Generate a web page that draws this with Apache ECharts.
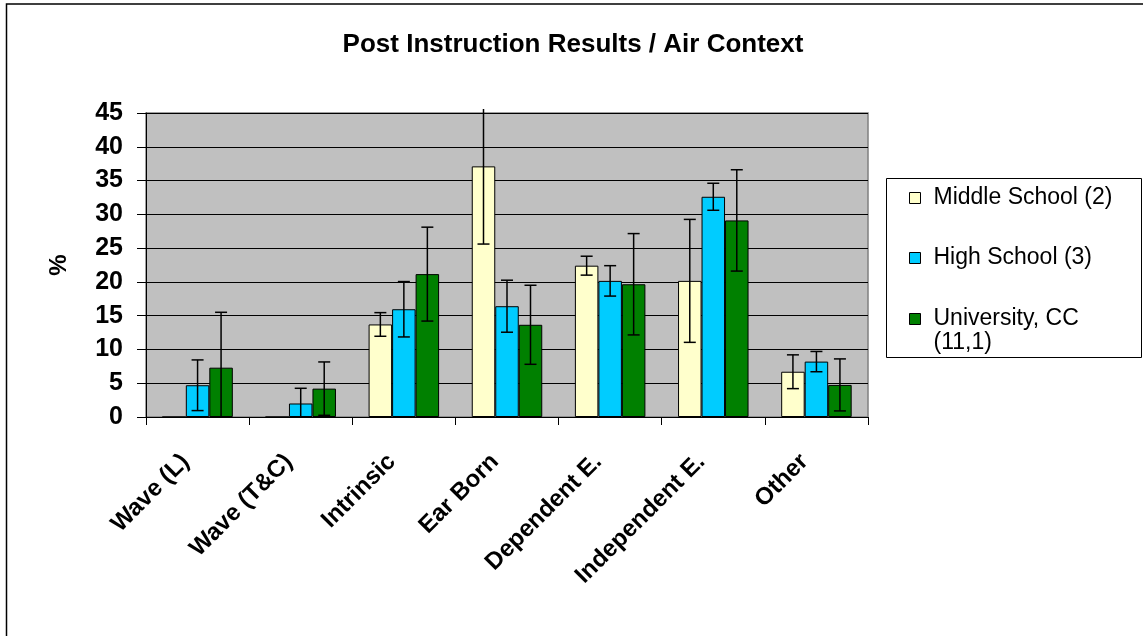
<!DOCTYPE html>
<html>
<head>
<meta charset="utf-8">
<script src="https://cdn.jsdelivr.net/npm/echarts@6/dist/echarts.min.js"></script>
<style>
html,body{margin:0;padding:0;background:#fff;}
#chart{width:1143px;height:636px;}
</style>
</head>
<body>
<div id="chart"></div>
<script>
const categories = ['Wave (L)', 'Wave (T&C)', 'Intrinsic', 'Ear Born', 'Dependent E.', 'Independent E.', 'Other'];
const seriesNames = ['Middle School (2)', 'High School (3)', 'University, CC\n(11,1)'];
const middleSchool = [0, 0, 13.7, 37.1, 22.4, 20.15, 6.7];
const middleSchoolErr = [0, 0, 1.75, 11.5, 1.4, 9.1, 2.5];
const highSchool = [4.7, 2.0, 15.95, 16.4, 20.15, 32.6, 8.2];
const highSchoolErr = [3.75, 2.25, 4.1, 3.85, 2.25, 2.0, 1.5];
const university = [7.3, 4.2, 21.15, 13.65, 19.65, 29.1, 4.75];
const universityErr = [8.2, 3.95, 6.95, 5.85, 7.5, 7.5, 3.85];
const yTicks = [0, 5, 10, 15, 20, 25, 30, 35, 40, 45];

const colors = ['#FFFFCC', '#00CCFF', '#008000'];
const BAR_W = 23.5;
const FONT = 'Liberation Sans, Arial, sans-serif';

const values = [middleSchool, highSchool, university];
const errs = [middleSchoolErr, highSchoolErr, universityErr];

const chart = echarts.init(document.getElementById('chart'), null, {renderer: 'canvas'});

function errSeries(k) {
  const data = categories.map((c, i) => [i, values[k][i], errs[k][i]]);
  return {
    type: 'custom',
    name: 'err' + k,
    z: 10,
    silent: true,
    data: data,
    encode: {x: 0, y: 1},
    renderItem: function (params, api) {
      const idx = api.value(0);
      const v = api.value(1);
      const e = api.value(2);
      if (!e) return null;
      const cs = params.coordSys;
      const center = api.coord([idx, v]);
      const x = center[0] + (k - 1) * BAR_W;
      let yTop = api.coord([idx, v + e])[1];
      let yBot = api.coord([idx, v - e])[1];
      const y0 = api.coord([idx, 0])[1];
      const children = [];
      let topCap = true, botCap = true;
      if (yTop < cs.y - 4) { yTop = cs.y - 4; topCap = false; }
      if (yBot > y0) { yBot = y0; botCap = false; }
      const st = {stroke: '#000', lineWidth: 1.5};
      children.push({type: 'line', shape: {x1: x, y1: yTop, x2: x, y2: yBot}, style: st});
      if (topCap) children.push({type: 'line', shape: {x1: x - 6, y1: yTop, x2: x + 6, y2: yTop}, style: st});
      if (botCap) children.push({type: 'line', shape: {x1: x - 6, y1: yBot, x2: x + 6, y2: yBot}, style: st});
      return {type: 'group', children: children};
    }
  };
}

const barSeries = values.map((vals, k) => ({
  type: 'bar',
  name: seriesNames[k],
  data: vals,
  barWidth: BAR_W,
  barGap: '0%',
  itemStyle: {color: colors[k], borderColor: '#000', borderWidth: 1},
  z: 5
}));

const legendPads = [[23, 0, 23, 8], [23, 0, 23, 8], [0, 0, 0, 8]];

const option = {
  animation: false,
  backgroundColor: '#fff',
  title: {
    text: 'Post Instruction Results / Air Context',
    left: 568,
    textAlign: 'center',
    top: 27,
    textStyle: {fontFamily: FONT, fontSize: 26, fontWeight: 'bold', color: '#000'}
  },
  legend: {
    orient: 'vertical',
    left: 909,
    top: 163,
    itemWidth: 11,
    itemHeight: 11,
    itemGap: -10,
    padding: 0,
    data: seriesNames.map((n, k) => ({
      name: n, icon: 'rect',
      textStyle: {padding: legendPads[k]}
    })),
    formatter: function (name) {
      return name.indexOf('\n') >= 0 ? ' \n' + name : name;
    },
    itemStyle: {borderColor: '#000', borderWidth: 1},
    textStyle: {fontFamily: FONT, fontSize: 23, color: '#000', lineHeight: 24}
  },
  grid: {
    left: 146, top: 113, right: 275, bottom: 219,
    show: true, backgroundColor: '#C0C0C0', borderColor: '#808080', borderWidth: 1.5
  },
  xAxis: {
    type: 'category',
    data: categories,
    axisLine: {lineStyle: {color: '#000', width: 1}},
    axisTick: {show: true, length: 8, alignWithLabel: false, lineStyle: {color: '#000'}},
    axisLabel: {
      rotate: 45, interval: 0, margin: 46,
      verticalAlign: 'bottom',
      padding: [0, 5, 0, 0],
      fontFamily: FONT, fontSize: 24, fontWeight: 'bold', color: '#000'
    },
    z: 20
  },
  yAxis: {
    type: 'value',
    min: 0, max: 45, interval: 5,
    name: '%',
    nameLocation: 'middle',
    nameGap: 75,
    nameRotate: 90,
    nameTextStyle: {fontFamily: FONT, fontSize: 24, fontWeight: 'bold', color: '#000'},
    axisLine: {show: true, lineStyle: {color: '#000', width: 1}},
    axisTick: {show: true, length: 9, inside: false, lineStyle: {color: '#000'}},
    axisLabel: {
      margin: 23, fontFamily: FONT, fontSize: 25, fontWeight: 'bold', color: '#000',
      formatter: v => yTicks.indexOf(v) >= 0 ? String(v) : ''
    },
    splitLine: {show: true, lineStyle: {color: '#000', width: 1}}
  },
  graphic: [
    {type: 'rect', left: 886, top: 178, shape: {x: 0, y: 0, width: 255, height: 179},
     style: {fill: '#fff', stroke: '#000', lineWidth: 1}, z: -1},
    {type: 'rect', shape: {x: 6.5, y: 4, width: 1160, height: 660},
     style: {fill: 'none', stroke: '#000', lineWidth: 1.5}, z: -2, silent: true}
  ],
  series: barSeries.concat([errSeries(0), errSeries(1), errSeries(2)])
};

chart.setOption(option);
</script>
</body>
</html>
